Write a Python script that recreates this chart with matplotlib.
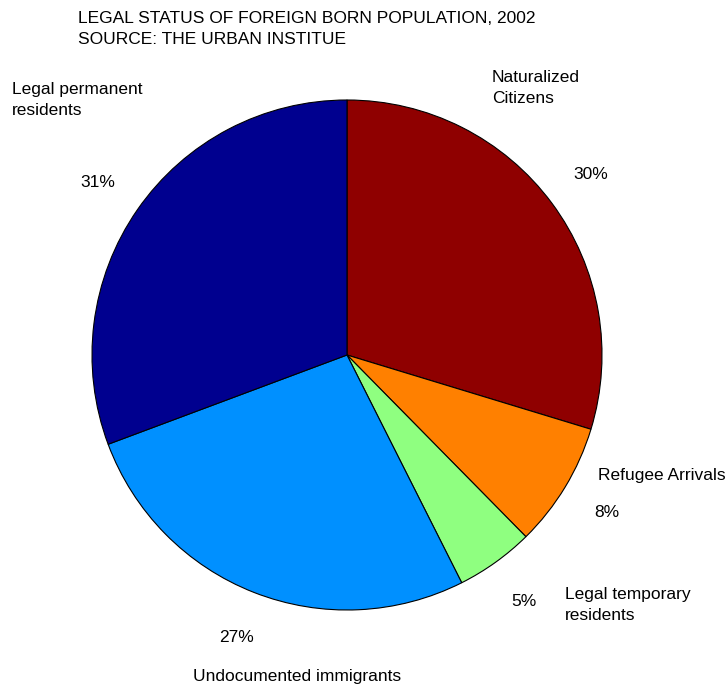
import numpy as np
import matplotlib
matplotlib.use('Agg')
import matplotlib.pyplot as plt

plt.rcParams['font.family'] = ['Liberation Sans', 'DejaVu Sans']

# legal status shares, drawn clockwise from twelve o'clock
labels = ['Naturalized\nCitizens', 'Refugee Arrivals', 'Legal temporary\nresidents',
          'Undocumented immigrants', 'Legal permanent\nresidents']
shares = [30, 8, 5, 27, 31]
colors = ['#8f0000', '#ff8000', '#8fff80', '#0090ff', '#00008f']
# name text anchors (left edge, vertical centre) in pie-radius units
name_xy = [(0.569, 1.047), (0.984, -0.471), (0.855, -0.98),
           (-0.604, -1.259), (-1.314, 1.0)]

fig = plt.figure(figsize=(7.26, 6.87), dpi=100)
ax = fig.add_axes([0, 0, 1, 1])

wedges, texts = ax.pie(shares, colors=colors, startangle=90, counterclock=False,
                       wedgeprops=dict(edgecolor='black', linewidth=0.8))

# percent labels outside each wedge
total = sum(shares)
ang = 90.0
for s in shares:
    mid = np.deg2rad(ang - s / total * 180.0)
    ax.text(1.19 * np.cos(mid), 1.19 * np.sin(mid), '%d%%' % s,
            ha='center', va='center', fontsize=12.5)
    ang -= s / total * 360.0

for lab, (x, y) in zip(labels, name_xy):
    ax.text(x, y, lab, ha='left', va='center', fontsize=12.5, linespacing=1.45)

ax.set_xlim(-347 / 255, (726 - 347) / 255)
ax.set_ylim((355 - 687) / 255, 355 / 255)
ax.set_aspect('auto')
ax.axis('off')

fig.text(78 / 726, 1 - 29 / 687, 'LEGAL STATUS OF FOREIGN BORN POPULATION, 2002\nSOURCE: THE URBAN INSTITUE',
         ha='left', va='center', fontsize=12.5, linespacing=1.5)

fig.savefig('out.png', dpi=100)
